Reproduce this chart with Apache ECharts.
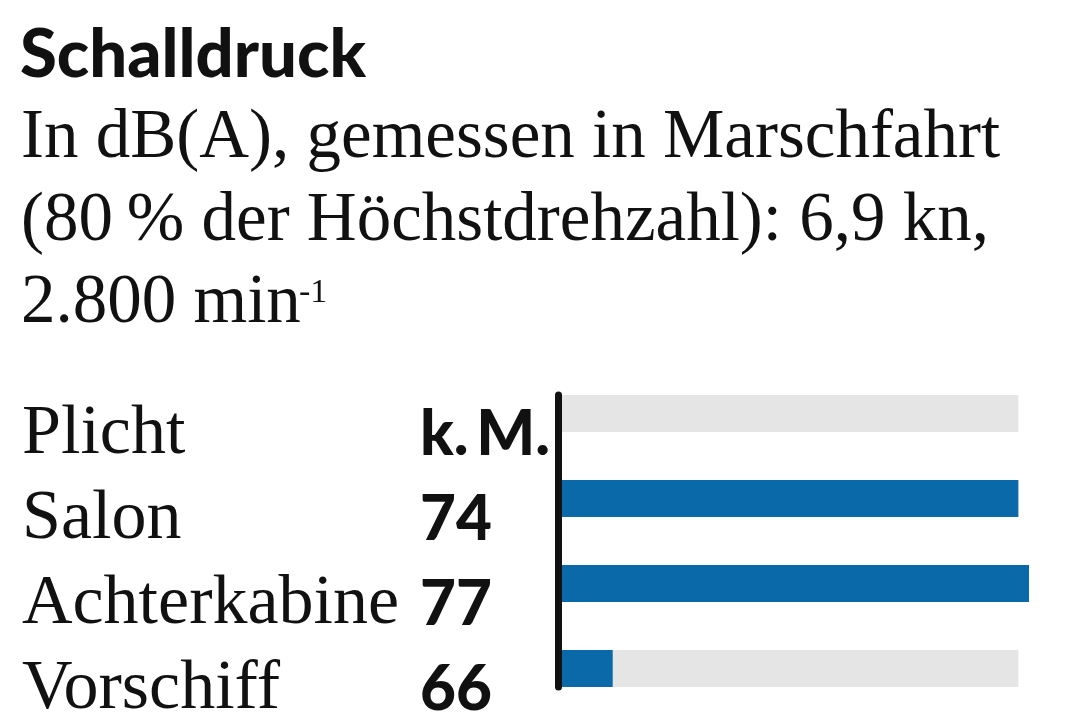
<!DOCTYPE html>
<html>
<head>
<meta charset="utf-8">
<script src="https://cdn.jsdelivr.net/npm/echarts@6/dist/echarts.min.js"></script>
<style>
html,body{margin:0;padding:0;background:#fff;}
#chart{width:1068px;height:712px;}
</style>
</head>
<body>
<div id="chart"></div>
<script>
// ---- data ----
var titleText = 'Schalldruck';
var subtitleLines = ['In dB(A), gemessen in Marschfahrt', '(80\u2009% der Höchstdrehzahl): 6,9 kn,', '2.800 min'];
var subtitleSup = '-1';
var categories = ['Plicht', 'Salon', 'Achterkabine', 'Vorschiff'];
var values = [null, 74, 77, 66];           // dB(A); null = keine Messung
var missingLabel = 'k.\u2009M.';
var backgroundValues = [74, 74, 74, 74];   // grey track = scale end
var axisMin = 65;
var axisMax = 74.21;

var serif = '"Liberation Serif", "Times New Roman", serif';
var sans = 'Lato, "Open Sans", sans-serif';

var valueLabels = values.map(function (v) { return v == null ? missingLabel : String(v); });

var chart = echarts.init(document.getElementById('chart'), null, {renderer: 'canvas'});

var option = {
  backgroundColor: '#ffffff',
  animation: false,
  title: [
    {
      text: titleText,
      left: 20, top: 22, padding: 0,
      textStyle: {fontFamily: sans, fontWeight: 900, fontSize: 67, color: '#111111'}
    },
    {
      text: subtitleLines.join('\n'),
      left: 21, top: 98, padding: 0,
      textStyle: {fontFamily: serif, fontWeight: 'normal', fontSize: 69, lineHeight: 82.5, color: '#111111'}
    },
    {
      text: subtitleSup,
      left: 299, top: 276, padding: 0,
      textStyle: {fontFamily: serif, fontWeight: 'normal', fontSize: 34, lineHeight: 34, color: '#111111'}
    }
  ],
  grid: [
    {left: 562, right: 39, top: 371, height: 340, outerBoundsMode: 'none'},
    {left: 558, width: 10, top: 395, height: 292, outerBoundsMode: 'none'}
  ],
  xAxis: [
    {type: 'value', gridIndex: 0, min: axisMin, max: axisMax, show: false},
    {type: 'value', gridIndex: 1, min: 0, max: 1, show: false}
  ],
  yAxis: [
    {
      type: 'category', gridIndex: 0, data: categories, inverse: true,
      axisLine: {show: false}, axisTick: {show: false}, splitLine: {show: false},
      axisLabel: {
        interval: 0, align: 'left', margin: 540, padding: [42, 0, 0, 0],
        formatter: function (val, idx) {
          return '{n|' + val + '}{v|' + valueLabels[idx] + '}';
        },
        rich: {
          n: {fontFamily: serif, fontSize: 70, color: '#111111', width: 398},
          v: {fontFamily: sans, fontWeight: 900, fontSize: 62, color: '#111111'}
        }
      }
    },
    {
      type: 'category', gridIndex: 1, data: categories, inverse: true, z: 10,
      axisLine: {show: true, lineStyle: {color: '#111111', width: 7}},
      axisTick: {show: false}, axisLabel: {show: false}, splitLine: {show: false}
    }
  ],
  series: [
    {
      type: 'bar', xAxisIndex: 0, yAxisIndex: 0, data: backgroundValues,
      barWidth: 37, barGap: '-100%', silent: true,
      itemStyle: {color: '#e5e5e5'}
    },
    {
      type: 'bar', xAxisIndex: 0, yAxisIndex: 0, data: values,
      barWidth: 37, barGap: '-100%', clip: true,
      itemStyle: {color: '#0a69a8'}
    }
  ]
};
chart.setOption(option);
</script>
</body>
</html>
